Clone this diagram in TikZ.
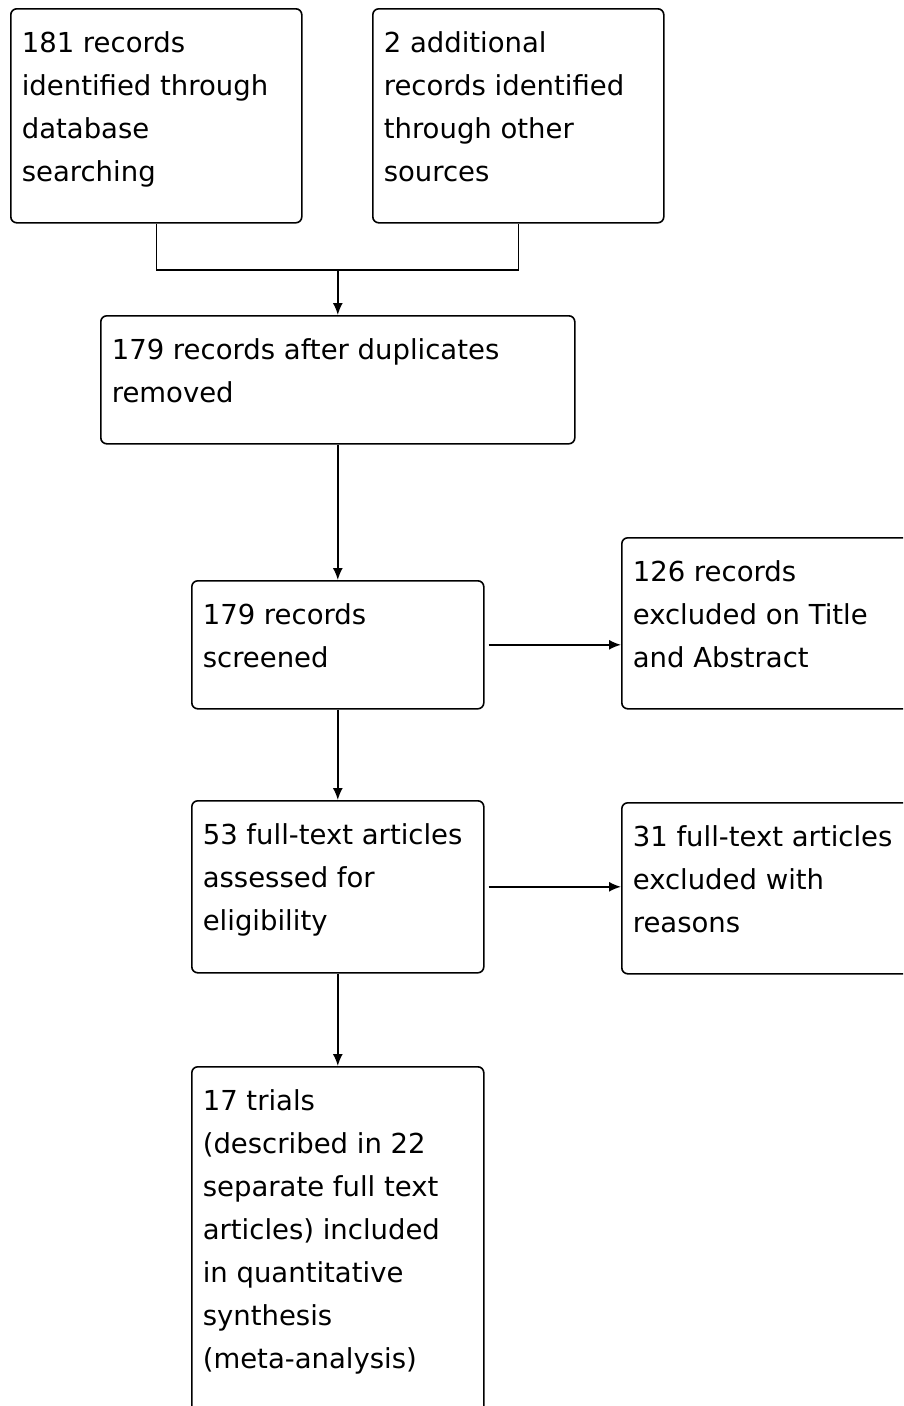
\documentclass[tikz,border=0pt]{standalone}
\usepackage{fontspec}
\setmainfont{DejaVu Sans}
\usetikzlibrary{arrows.meta, positioning}
\newcommand{\boxtext}[3]{\parbox[t][#2][t]{#1}{\raggedright #3}}

\begin{document}
\begin{tikzpicture}[x=1pt, y=-1pt,
  rbox/.style={draw, rounded corners=6pt, line width=1.6pt, anchor=north west, inner xsep=11pt, inner ysep=23pt, font=\fontsize{27.5}{43}\selectfont},
  flow/.style={line width=1.6pt, -{Latex[length=12pt, width=10pt]}}
]
  \useasboundingbox[fill=white] (0,0) rectangle (903,1406);
  \clip (0,0) rectangle (903,1406);

  \node[rbox] (records) at (10,8) {\boxtext{269pt}{168pt}{181 records\\identified through\\database\\searching}};
  \node[rbox] (extra) at (372,8) {\boxtext{269pt}{168pt}{2 additional\\records identified\\through other\\sources}};
  \node[rbox] (dedup) at (100,315) {\boxtext{452pt}{82pt}{179 records after duplicates\\removed}};
  \node[rbox] (screened) at (191,580) {\boxtext{270pt}{82pt}{179 records\\screened}};
  \node[rbox] (excl) at (621,537) {\boxtext{278pt}{125pt}{126 records\\excluded on Title\\and Abstract}};
  \node[rbox] (fulltext) at (191,800) {\boxtext{270pt}{126pt}{53 full-text articles\\assessed for\\eligibility}};
  \node[rbox] (exclft) at (621,802) {\boxtext{278pt}{125pt}{31 full-text articles\\excluded with\\reasons}};
  \node[rbox] (included) at (191,1066) {\boxtext{270pt}{314pt}{17 trials\\(described in 22\\separate full text\\articles) included\\in quantitative\\synthesis\\(meta-analysis)}};

  \coordinate (merge) at (dedup.north |- 0,270);
  \draw[line width=1.6pt] (records.south) |- (merge) -| (extra.south);
  \draw[flow] (merge) -- (dedup.north);
  \draw[flow] (dedup.south) -- (screened.north);
  \draw[flow] ([xshift=4pt]screened.east) -- (screened.east -| excl.west);
  \draw[flow] (screened.south) -- (fulltext.north);
  \draw[flow] ([xshift=4pt]fulltext.east) -- (fulltext.east -| exclft.west);
  \draw[flow] (fulltext.south) -- (included.north);
\end{tikzpicture}
\end{document}
